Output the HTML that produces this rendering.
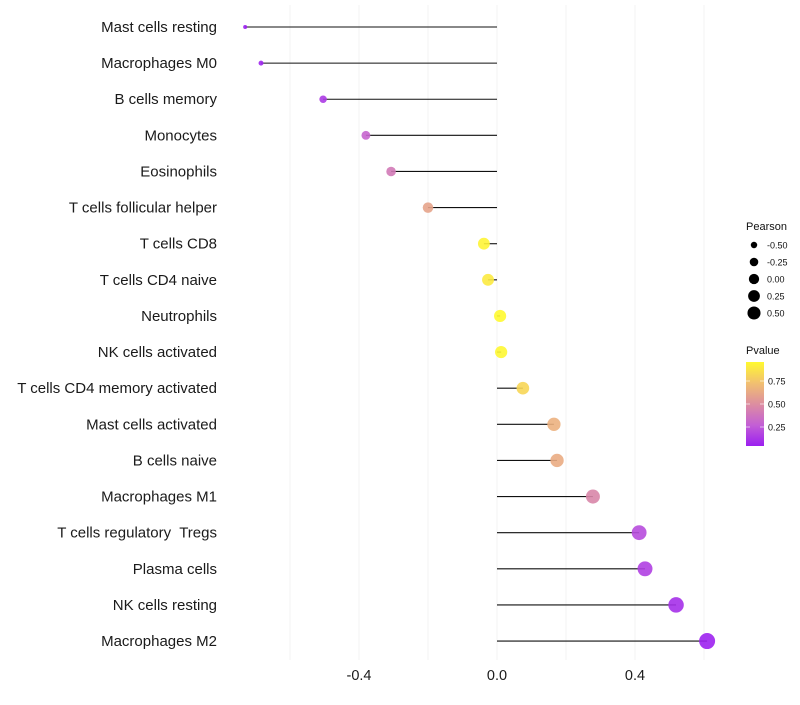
<!DOCTYPE html>
<html><head><meta charset="utf-8"><style>
body{margin:0;background:#fff;font-family:"Liberation Sans",Arial,sans-serif}
svg text{font-family:"Liberation Sans",Arial,sans-serif;white-space:pre}
</style></head><body>
<svg id="chart" width="800" height="700"></svg>
<script>
const categories=["Mast cells resting","Macrophages M0","B cells memory","Monocytes","Eosinophils","T cells follicular helper","T cells CD8","T cells CD4 naive","Neutrophils","NK cells activated","T cells CD4 memory activated","Mast cells activated","B cells naive","Macrophages M1","T cells regulatory  Tregs","Plasma cells","NK cells resting","Macrophages M2"];
const pearson=[-0.730,-0.684,-0.504,-0.380,-0.307,-0.200,-0.038,-0.026,0.009,0.012,0.075,0.165,0.174,0.278,0.412,0.429,0.519,0.609];
const pvalues=[0.04,0.06,0.14,0.30,0.40,0.60,0.94,0.90,0.96,0.95,0.82,0.66,0.64,0.46,0.20,0.16,0.10,0.05];
const xTicks=[-0.4,0.0,0.4];
const xTickLabels=["-0.4","0.0","0.4"];
const gridVals=[-0.6,-0.4,-0.2,0,0.2,0.4,0.6];
const sizeLegendVals=[-0.5,-0.25,0,0.25,0.5];
const sizeLegendLabels=["-0.50","-0.25","0.00","0.25","0.50"];
const colorLegendVals=[0.75,0.5,0.25];
const colorLegendLabels=["0.75","0.50","0.25"];

const NS="http://www.w3.org/2000/svg";
const svg=document.getElementById('chart');
function mk(t,a,p){const e=document.createElementNS(NS,t);for(const k in a)e.setAttribute(k,a[k]);(p||svg).appendChild(e);return e;}
const x=v=>497+v*345;
const y=i=>27+i*36.12;
const r=v=>Math.sqrt(Math.max(3,4+(v+0.73)*44.8));
const stops=[[0,[155,31,240]],[0.25,[195,95,213]],[0.5,[221,142,160]],[0.75,[242,192,112]],[1,[255,249,48]]];
function col(p){const t=Math.min(1,Math.max(0,(p-0.04)/0.92));for(let i=1;i<stops.length;i++){if(t<=stops[i][0]){const a=stops[i-1],b=stops[i];const f=(t-a[0])/(b[0]-a[0]);const c=a[1].map((v,k)=>Math.round(v+(b[1][k]-v)*f));return `rgb(${c})`;}}return 'rgb(255,249,48)';}

gridVals.forEach(g=>{const l=mk('line',{x1:x(g),x2:x(g),y1:5,y2:660,stroke:'#f3f3f3','stroke-width':1});

});

categories.forEach((c,i)=>{
 const t=mk('text',{x:217,y:y(i)+5,'text-anchor':'end','font-size':15,fill:'#1a1a1a'});t.textContent=c;
 
 
 const l=mk('line',{x1:x(0),x2:x(pearson[i]),y1:y(i),y2:y(i),stroke:'#111','stroke-width':1.1});
 
 
 const d=mk('circle',{cx:x(pearson[i]),cy:y(i),r:r(pearson[i]),fill:col(pvalues[i]),'fill-opacity':0.9});
 
 
});
xTicks.forEach((v,i)=>{const t=mk('text',{x:x(v),y:680,'text-anchor':'middle','font-size':14.5,fill:'#1a1a1a'});t.textContent=xTickLabels[i];

});

const lt=mk('text',{x:746,y:230,'font-size':11,fill:'#111'});lt.textContent='Pearson';


sizeLegendVals.forEach((v,i)=>{const cy=245+i*17;
 const c=mk('circle',{cx:754,cy:cy,r:r(v)*0.85,fill:'#000'});
 
 
 const t=mk('text',{x:767,y:cy+3.5,'font-size':9,fill:'#111'});t.textContent=sizeLegendLabels[i];
 
 });

const ct=mk('text',{x:746,y:354,'font-size':11,fill:'#111'});ct.textContent='Pvalue';


const defs=mk('defs',{});const g=mk('linearGradient',{id:'pg',x1:0,y1:1,x2:0,y2:0},defs);
stops.forEach(s=>mk('stop',{offset:s[0],'stop-color':`rgb(${s[1]})`},g));
const bar=mk('rect',{x:746,y:362,width:18,height:84,fill:'url(#pg)'});


const cy=p=>450-p*92;
colorLegendVals.forEach((v,i)=>{
 mk('line',{x1:746,x2:750,y1:cy(v),y2:cy(v),stroke:'#fff','stroke-width':1,opacity:0.6});
 mk('line',{x1:760,x2:764,y1:cy(v),y2:cy(v),stroke:'#fff','stroke-width':1,opacity:0.6});
 const t=mk('text',{x:768,y:cy(v)+3.5,'font-size':9,fill:'#111'});t.textContent=colorLegendLabels[i];
 
 });
</script>
</body></html>
